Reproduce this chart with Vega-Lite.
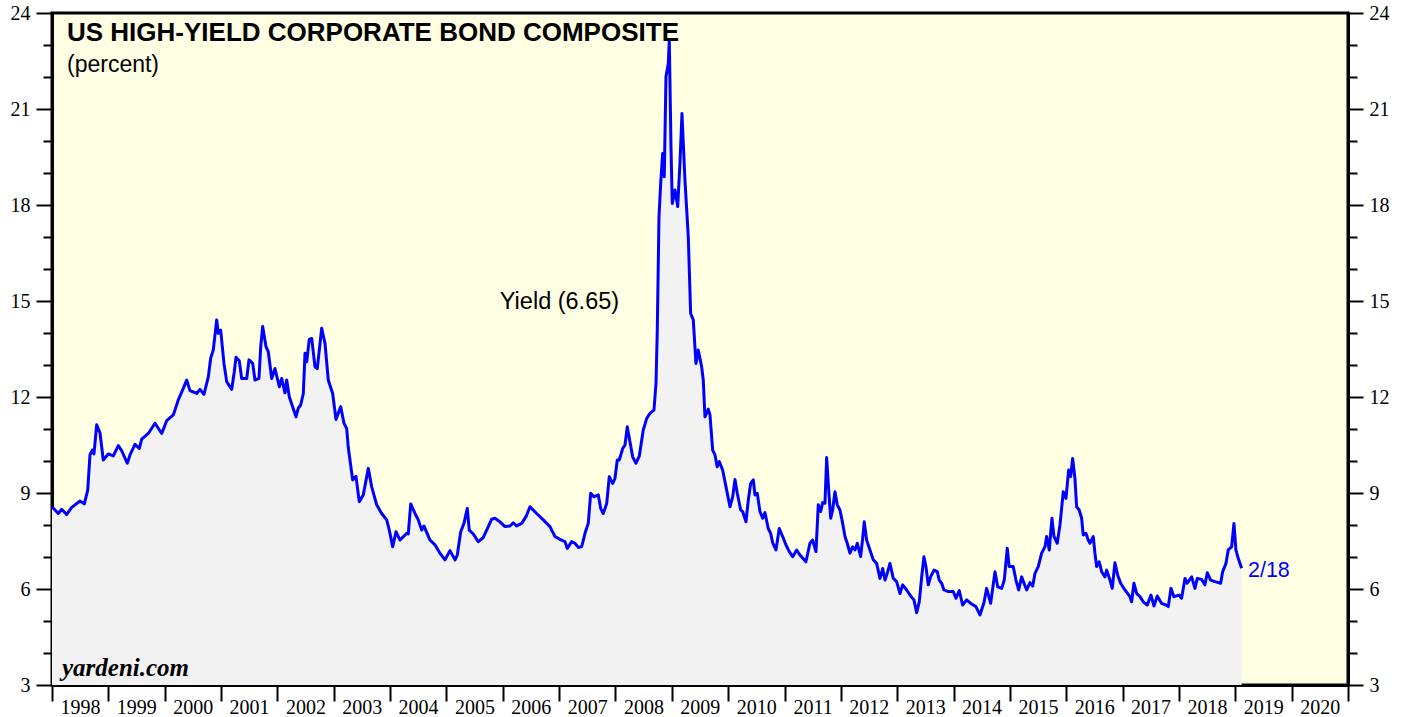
{
 "$schema": "https://vega.github.io/schema/vega-lite/v6.json",
 "width": 1296,
 "height": 672,
 "autosize": {"type": "none"},
 "padding": {"left": 52, "top": 13, "right": 59, "bottom": 32},
 "background": "#FFFFFF",
 "config": {
  "view": {"stroke": "#000000", "strokeWidth": 3, "fill": "#FFFFE3"},
  "axis": {"grid": false, "domainColor": "#000000", "tickColor": "#000000", "labelColor": "#000000", "labelFont": "Liberation Serif", "labelFontSize": 20, "tickWidth": 2, "domainWidth": 3, "title": null, "zindex": 1}
 },
 "datasets": {
  "hy": [
   {"t":1998.000,"v":8.57},{"t":1998.112,"v":8.36},{"t":1998.172,"v":8.49},{"t":1998.261,"v":8.33},{"t":1998.350,"v":8.55},{"t":1998.497,"v":8.75},{"t":1998.573,"v":8.66},{"t":1998.634,"v":9.09},{"t":1998.674,"v":10.19},{"t":1998.715,"v":10.34},{"t":1998.745,"v":10.22},{"t":1998.793,"v":11.13},{"t":1998.852,"v":10.88},{"t":1998.910,"v":10.03},{"t":1998.999,"v":10.22},{"t":1999.088,"v":10.16},{"t":1999.177,"v":10.48},{"t":1999.237,"v":10.32},{"t":1999.336,"v":9.93},{"t":1999.384,"v":10.19},{"t":1999.473,"v":10.52},{"t":1999.549,"v":10.39},{"t":1999.592,"v":10.68},{"t":1999.709,"v":10.86},{"t":1999.828,"v":11.18},{"t":1999.947,"v":10.86},{"t":2000.035,"v":11.26},{"t":2000.153,"v":11.44},{"t":2000.241,"v":11.91},{"t":2000.330,"v":12.27},{"t":2000.390,"v":12.53},{"t":2000.449,"v":12.20},{"t":2000.568,"v":12.11},{"t":2000.626,"v":12.24},{"t":2000.697,"v":12.08},{"t":2000.774,"v":12.63},{"t":2000.816,"v":13.21},{"t":2000.862,"v":13.47},{"t":2000.923,"v":14.41},{"t":2000.951,"v":13.99},{"t":2000.994,"v":14.09},{"t":2001.052,"v":13.05},{"t":2001.100,"v":12.48},{"t":2001.189,"v":12.24},{"t":2001.235,"v":12.79},{"t":2001.265,"v":13.24},{"t":2001.324,"v":13.13},{"t":2001.366,"v":12.58},{"t":2001.455,"v":12.58},{"t":2001.496,"v":13.16},{"t":2001.562,"v":13.05},{"t":2001.602,"v":12.53},{"t":2001.673,"v":12.58},{"t":2001.704,"v":13.57},{"t":2001.739,"v":14.20},{"t":2001.798,"v":13.57},{"t":2001.838,"v":13.42},{"t":2001.899,"v":12.58},{"t":2001.957,"v":12.89},{"t":2002.034,"v":12.32},{"t":2002.076,"v":12.58},{"t":2002.135,"v":12.13},{"t":2002.165,"v":12.53},{"t":2002.211,"v":12.01},{"t":2002.330,"v":11.38},{"t":2002.371,"v":11.65},{"t":2002.413,"v":11.75},{"t":2002.460,"v":12.11},{"t":2002.490,"v":13.37},{"t":2002.520,"v":13.10},{"t":2002.566,"v":13.80},{"t":2002.609,"v":13.83},{"t":2002.667,"v":12.95},{"t":2002.708,"v":12.89},{"t":2002.786,"v":14.15},{"t":2002.845,"v":13.68},{"t":2002.903,"v":12.53},{"t":2002.981,"v":12.11},{"t":2003.040,"v":11.30},{"t":2003.123,"v":11.70},{"t":2003.182,"v":11.18},{"t":2003.230,"v":11.02},{"t":2003.258,"v":10.42},{"t":2003.336,"v":9.41},{"t":2003.395,"v":9.52},{"t":2003.453,"v":8.73},{"t":2003.524,"v":8.94},{"t":2003.613,"v":9.77},{"t":2003.673,"v":9.20},{"t":2003.762,"v":8.63},{"t":2003.851,"v":8.36},{"t":2003.940,"v":8.16},{"t":2003.986,"v":7.84},{"t":2004.046,"v":7.32},{"t":2004.105,"v":7.79},{"t":2004.176,"v":7.53},{"t":2004.294,"v":7.74},{"t":2004.323,"v":7.72},{"t":2004.366,"v":8.66},{"t":2004.442,"v":8.36},{"t":2004.500,"v":8.16},{"t":2004.561,"v":7.84},{"t":2004.601,"v":7.97},{"t":2004.708,"v":7.53},{"t":2004.797,"v":7.38},{"t":2004.885,"v":7.12},{"t":2004.974,"v":6.91},{"t":2005.063,"v":7.20},{"t":2005.152,"v":6.91},{"t":2005.193,"v":7.06},{"t":2005.253,"v":7.79},{"t":2005.311,"v":8.05},{"t":2005.370,"v":8.52},{"t":2005.405,"v":7.84},{"t":2005.476,"v":7.72},{"t":2005.565,"v":7.48},{"t":2005.654,"v":7.61},{"t":2005.743,"v":7.95},{"t":2005.803,"v":8.18},{"t":2005.861,"v":8.21},{"t":2005.950,"v":8.10},{"t":2006.039,"v":7.95},{"t":2006.128,"v":7.97},{"t":2006.186,"v":8.07},{"t":2006.246,"v":7.97},{"t":2006.335,"v":8.05},{"t":2006.412,"v":8.26},{"t":2006.483,"v":8.57},{"t":2006.601,"v":8.36},{"t":2006.719,"v":8.16},{"t":2006.838,"v":7.95},{"t":2006.926,"v":7.64},{"t":2007.015,"v":7.55},{"t":2007.104,"v":7.48},{"t":2007.144,"v":7.27},{"t":2007.223,"v":7.48},{"t":2007.281,"v":7.43},{"t":2007.340,"v":7.30},{"t":2007.400,"v":7.32},{"t":2007.459,"v":7.74},{"t":2007.517,"v":8.05},{"t":2007.560,"v":8.99},{"t":2007.618,"v":8.88},{"t":2007.695,"v":8.94},{"t":2007.737,"v":8.52},{"t":2007.783,"v":8.36},{"t":2007.844,"v":8.67},{"t":2007.890,"v":9.51},{"t":2007.950,"v":9.30},{"t":2007.991,"v":9.46},{"t":2008.032,"v":10.03},{"t":2008.067,"v":10.03},{"t":2008.128,"v":10.39},{"t":2008.169,"v":10.50},{"t":2008.209,"v":11.07},{"t":2008.257,"v":10.60},{"t":2008.305,"v":10.13},{"t":2008.364,"v":9.93},{"t":2008.422,"v":10.15},{"t":2008.493,"v":10.97},{"t":2008.554,"v":11.33},{"t":2008.612,"v":11.49},{"t":2008.683,"v":11.59},{"t":2008.719,"v":12.43},{"t":2008.742,"v":14.09},{"t":2008.772,"v":17.63},{"t":2008.802,"v":18.67},{"t":2008.837,"v":19.61},{"t":2008.866,"v":18.88},{"t":2008.896,"v":22.01},{"t":2008.937,"v":22.42},{"t":2008.955,"v":23.16},{"t":2008.985,"v":19.82},{"t":2009.008,"v":18.05},{"t":2009.056,"v":18.47},{"t":2009.104,"v":17.95},{"t":2009.144,"v":19.30},{"t":2009.180,"v":20.86},{"t":2009.233,"v":18.78},{"t":2009.292,"v":17.01},{"t":2009.334,"v":14.61},{"t":2009.381,"v":14.41},{"t":2009.428,"v":13.05},{"t":2009.469,"v":13.47},{"t":2009.529,"v":12.95},{"t":2009.558,"v":12.53},{"t":2009.588,"v":11.38},{"t":2009.647,"v":11.62},{"t":2009.677,"v":11.44},{"t":2009.725,"v":10.34},{"t":2009.766,"v":10.19},{"t":2009.806,"v":9.82},{"t":2009.842,"v":9.98},{"t":2009.902,"v":9.72},{"t":2009.961,"v":9.20},{"t":2010.032,"v":8.57},{"t":2010.080,"v":8.88},{"t":2010.121,"v":9.42},{"t":2010.162,"v":8.99},{"t":2010.222,"v":8.47},{"t":2010.257,"v":8.42},{"t":2010.316,"v":8.10},{"t":2010.357,"v":8.78},{"t":2010.399,"v":9.30},{"t":2010.446,"v":9.41},{"t":2010.475,"v":8.94},{"t":2010.516,"v":8.99},{"t":2010.564,"v":8.42},{"t":2010.612,"v":8.21},{"t":2010.653,"v":8.39},{"t":2010.711,"v":7.89},{"t":2010.754,"v":7.74},{"t":2010.789,"v":7.45},{"t":2010.848,"v":7.22},{"t":2010.907,"v":7.89},{"t":2010.967,"v":7.64},{"t":2011.026,"v":7.38},{"t":2011.084,"v":7.17},{"t":2011.145,"v":7.01},{"t":2011.215,"v":7.22},{"t":2011.274,"v":7.06},{"t":2011.380,"v":6.85},{"t":2011.451,"v":7.43},{"t":2011.499,"v":7.53},{"t":2011.558,"v":7.17},{"t":2011.599,"v":8.63},{"t":2011.641,"v":8.42},{"t":2011.677,"v":8.70},{"t":2011.718,"v":8.68},{"t":2011.748,"v":10.11},{"t":2011.776,"v":9.30},{"t":2011.819,"v":8.21},{"t":2011.854,"v":8.47},{"t":2011.895,"v":9.04},{"t":2011.936,"v":8.63},{"t":2011.984,"v":8.47},{"t":2012.032,"v":8.05},{"t":2012.073,"v":7.64},{"t":2012.113,"v":7.43},{"t":2012.161,"v":7.12},{"t":2012.209,"v":7.32},{"t":2012.250,"v":7.22},{"t":2012.291,"v":7.43},{"t":2012.351,"v":7.01},{"t":2012.387,"v":7.58},{"t":2012.415,"v":8.10},{"t":2012.457,"v":7.53},{"t":2012.516,"v":7.22},{"t":2012.575,"v":6.91},{"t":2012.635,"v":6.80},{"t":2012.694,"v":6.33},{"t":2012.742,"v":6.64},{"t":2012.783,"v":6.28},{"t":2012.823,"v":6.49},{"t":2012.871,"v":6.80},{"t":2012.930,"v":6.33},{"t":2012.990,"v":6.23},{"t":2013.049,"v":5.86},{"t":2013.097,"v":6.13},{"t":2013.168,"v":5.97},{"t":2013.238,"v":5.78},{"t":2013.297,"v":5.66},{"t":2013.345,"v":5.26},{"t":2013.391,"v":5.60},{"t":2013.434,"v":6.38},{"t":2013.474,"v":7.01},{"t":2013.510,"v":6.70},{"t":2013.551,"v":6.13},{"t":2013.593,"v":6.38},{"t":2013.652,"v":6.59},{"t":2013.711,"v":6.54},{"t":2013.746,"v":6.28},{"t":2013.789,"v":6.18},{"t":2013.829,"v":5.97},{"t":2013.906,"v":5.92},{"t":2013.995,"v":5.92},{"t":2014.042,"v":5.71},{"t":2014.101,"v":5.95},{"t":2014.161,"v":5.50},{"t":2014.232,"v":5.66},{"t":2014.321,"v":5.53},{"t":2014.397,"v":5.45},{"t":2014.468,"v":5.19},{"t":2014.539,"v":5.57},{"t":2014.587,"v":6.02},{"t":2014.658,"v":5.55},{"t":2014.735,"v":6.54},{"t":2014.783,"v":6.07},{"t":2014.854,"v":6.02},{"t":2014.900,"v":6.28},{"t":2014.953,"v":7.27},{"t":2014.988,"v":6.70},{"t":2015.059,"v":6.70},{"t":2015.107,"v":6.28},{"t":2015.155,"v":5.97},{"t":2015.208,"v":6.38},{"t":2015.297,"v":5.97},{"t":2015.356,"v":6.20},{"t":2015.404,"v":6.09},{"t":2015.445,"v":6.49},{"t":2015.503,"v":6.70},{"t":2015.563,"v":7.12},{"t":2015.622,"v":7.32},{"t":2015.652,"v":7.64},{"t":2015.698,"v":7.22},{"t":2015.746,"v":8.21},{"t":2015.782,"v":7.64},{"t":2015.840,"v":7.43},{"t":2015.888,"v":8.00},{"t":2015.947,"v":9.04},{"t":2015.995,"v":8.83},{"t":2016.042,"v":9.72},{"t":2016.078,"v":9.51},{"t":2016.113,"v":10.08},{"t":2016.154,"v":9.46},{"t":2016.184,"v":8.57},{"t":2016.230,"v":8.47},{"t":2016.273,"v":8.21},{"t":2016.301,"v":7.69},{"t":2016.349,"v":7.74},{"t":2016.390,"v":7.53},{"t":2016.420,"v":7.43},{"t":2016.479,"v":7.64},{"t":2016.509,"v":7.12},{"t":2016.539,"v":6.70},{"t":2016.585,"v":6.85},{"t":2016.628,"v":6.54},{"t":2016.687,"v":6.38},{"t":2016.717,"v":6.59},{"t":2016.776,"v":6.28},{"t":2016.816,"v":6.02},{"t":2016.864,"v":6.82},{"t":2016.912,"v":6.44},{"t":2016.965,"v":6.18},{"t":2017.041,"v":5.97},{"t":2017.130,"v":5.76},{"t":2017.160,"v":5.60},{"t":2017.201,"v":6.18},{"t":2017.249,"v":5.86},{"t":2017.308,"v":5.76},{"t":2017.366,"v":5.60},{"t":2017.437,"v":5.50},{"t":2017.503,"v":5.81},{"t":2017.556,"v":5.47},{"t":2017.615,"v":5.78},{"t":2017.693,"v":5.55},{"t":2017.769,"v":5.50},{"t":2017.810,"v":5.45},{"t":2017.858,"v":6.02},{"t":2017.911,"v":5.76},{"t":2018.005,"v":5.81},{"t":2018.047,"v":5.71},{"t":2018.107,"v":6.33},{"t":2018.147,"v":6.18},{"t":2018.225,"v":6.38},{"t":2018.284,"v":6.02},{"t":2018.325,"v":6.33},{"t":2018.403,"v":6.30},{"t":2018.461,"v":6.13},{"t":2018.502,"v":6.51},{"t":2018.562,"v":6.28},{"t":2018.639,"v":6.23},{"t":2018.740,"v":6.18},{"t":2018.775,"v":6.54},{"t":2018.834,"v":6.80},{"t":2018.874,"v":7.22},{"t":2018.935,"v":7.32},{"t":2018.976,"v":8.05},{"t":2019.011,"v":7.22},{"t":2019.052,"v":6.96},{"t":2019.112,"v":6.65}
  ]
 },
 "encoding": {
  "x": {
   "field": "t", "type": "quantitative",
   "scale": {"domain": [1998, 2021], "nice": false, "zero": false},
   "axis": {"orient": "bottom", "values": [1998,1999,2000,2001,2002,2003,2004,2005,2006,2007,2008,2009,2010,2011,2012,2013,2014,2015,2016,2017,2018,2019,2020,2021], "format": "d", "labelExpr": "datum.value >= 2021 ? '' : datum.label", "labelOffset": 28, "labelFlush": false, "labelOverlap": false, "tickSize": 16, "labelPadding": 12, "labelBaseline": "alphabetic", "labelAlign": "center"}
  }
 },
 "layer": [
  {
   "data": {"name": "hy"},
   "mark": {"type": "area", "color": "#F2F2F2"},
   "encoding": {
    "y": {"field": "v", "type": "quantitative", "scale": {"domain": [3, 24], "nice": false, "zero": false},
     "axis": {"orient": "left", "values": [3,6,9,12,15,18,21,24], "tickSize": 16, "labelPadding": 6}},
    "y2": {"datum": 3}
   }
  },
  {
   "data": {"name": "hy"},
   "mark": {"type": "line", "color": "#0000FF", "strokeWidth": 3, "strokeJoin": "round"},
   "encoding": {
    "y": {"field": "v", "type": "quantitative", "scale": {"domain": [3, 24], "nice": false, "zero": false},
     "axis": {"orient": "right", "values": [3,6,9,12,15,18,21,24], "tickSize": 15, "labelPadding": 6}}
   }
  },
  {
   "data": {"values": [{"t": 1998.266, "v": 23.125, "label": "US HIGH-YIELD CORPORATE BOND COMPOSITE"}]},
   "mark": {"type": "text", "font": "Liberation Sans", "fontWeight": "bold", "fontSize": 26, "align": "left", "baseline": "alphabetic", "color": "#000000"},
   "encoding": {
    "y": {"field": "v", "type": "quantitative", "scale": {"domain": [3, 24], "nice": false, "zero": false},
     "axis": {"orient": "left", "values": [4,5,7,8,10,11,13,14,16,17,19,20,22,23], "tickSize": 9, "labels": false, "domain": false}},
    "text": {"field": "label"}
   }
  },
  {
   "data": {"values": [{"t": 1998.266, "v": 22.17, "label": "(percent)"}]},
   "mark": {"type": "text", "font": "Liberation Sans", "fontSize": 23, "align": "left", "baseline": "alphabetic", "color": "#000000"},
   "encoding": {
    "y": {"field": "v", "type": "quantitative", "scale": {"domain": [3, 24], "nice": false, "zero": false},
     "axis": {"orient": "right", "values": [4,5,7,8,10,11,13,14,16,17,19,20,22,23], "tickSize": 9, "labels": false, "domain": false}},
    "text": {"field": "label"}
   }
  },
  {
   "data": {"values": [{"t": 2007.006, "v": 14.74, "label": "Yield (6.65)"}]},
   "mark": {"type": "text", "font": "Liberation Sans", "fontSize": 23.5, "align": "center", "baseline": "alphabetic", "color": "#000000"},
   "encoding": {
    "y": {"field": "v", "type": "quantitative", "scale": {"domain": [3, 24], "nice": false, "zero": false}, "axis": null},
    "text": {"field": "label"}
   }
  },
  {
   "data": {"values": [{"t": 2019.225, "v": 6.375, "label": "2/18"}]},
   "mark": {"type": "text", "font": "Liberation Sans", "fontSize": 21.5, "align": "left", "baseline": "alphabetic", "color": "#0000FF"},
   "encoding": {
    "y": {"field": "v", "type": "quantitative", "scale": {"domain": [3, 24], "nice": false, "zero": false}, "axis": null},
    "text": {"field": "label"}
   }
  },
  {
   "data": {"values": [{"t": 1998.177, "v": 3.28, "label": "yardeni.com"}]},
   "mark": {"type": "text", "font": "Liberation Serif", "fontWeight": "bold", "fontStyle": "italic", "fontSize": 25, "align": "left", "baseline": "alphabetic", "color": "#000000"},
   "encoding": {
    "y": {"field": "v", "type": "quantitative", "scale": {"domain": [3, 24], "nice": false, "zero": false}, "axis": null},
    "text": {"field": "label"}
   }
  }
 ],
 "resolve": {"scale": {"y": "independent"}, "axis": {"y": "independent"}}
}
